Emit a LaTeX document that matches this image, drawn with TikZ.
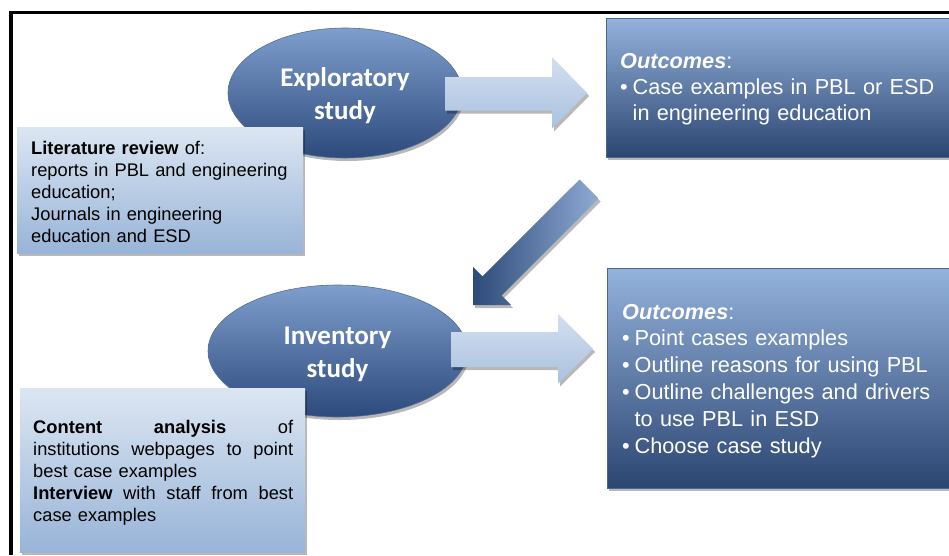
\documentclass[tikz,border=0pt]{standalone}
\usepackage{fontspec}
\setmainfont{Liberation Sans}
\newfontfamily\carlito{Carlito}
\usetikzlibrary{shapes.geometric,shadows}
\definecolor{infotop}{HTML}{DCE6F2}
\definecolor{infobot}{HTML}{98B4D8}
\definecolor{outtop}{HTML}{93B2DC}
\definecolor{outmid}{HTML}{44679B}
\definecolor{outbot}{HTML}{2B4571}
\definecolor{elltop}{HTML}{7E9ECE}
\definecolor{ellmid}{HTML}{3E639C}
\definecolor{ellbot}{HTML}{2C4A7B}
\definecolor{arrtop}{HTML}{D3DFEF}
\definecolor{arrbot}{HTML}{AAC1E0}
\definecolor{darrdark}{HTML}{2D4A78}
\definecolor{darrmid}{HTML}{4C6FA3}
\definecolor{darrlight}{HTML}{8FAAD3}
\newcommand\bul{\makebox[12.5pt][l]{\textbullet}}
\newcommand\ind{\hspace*{12.5pt}}
\newcommand\jline[1]{\leavevmode\hbox to\linewidth{#1}}
\begin{document}
\begin{tikzpicture}[x=1pt,y=-1pt,
  softshadow/.style={drop shadow={shadow xshift=2pt,shadow yshift=-3pt,opacity=.28,fill=black}},
  studyell/.style={ellipse,inner sep=0pt,top color=elltop,middle color=ellmid,bottom color=ellbot,
    draw=ellbot!80!white,line width=0.6pt,softshadow,text=white,align=center,
    font=\carlito\bfseries\fontsize{27}{33}\selectfont},
  infobox/.style={rectangle,inner sep=0pt,anchor=north west,top color=infotop,bottom color=infobot,softshadow},
  infotext/.style={anchor=base west,inner sep=0pt,text width=#1,align=left,
    font=\fontsize{18.3}{22.2}\selectfont,text=black},
  outbox/.style={rectangle,inner sep=0pt,anchor=north west,top color=outtop,middle color=outmid,bottom color=outbot,
    draw=outbot!70!outtop,line width=0.8pt,softshadow},
  outtext/.style={anchor=base west,inner sep=0pt,text width=325pt,align=left,
    font=\fontsize{21.7}{#1}\selectfont,text=white},
  lightarrow/.style={top color=arrtop,bottom color=arrbot,softshadow},
  darkarrow/.style={left color=darrdark,middle color=darrmid,right color=darrlight,softshadow},
  frameline/.style={line width=3.4pt,black}
]
\useasboundingbox (0,0) rectangle (949,555);

% study ellipses
\node[studyell,minimum width=234pt,minimum height=130pt] (explo) at (345,93) {\rule{0pt}{25pt}Exploratory\\study};
\node[studyell,minimum width=259pt,minimum height=132pt] (inv) at (337.5,351) {\rule{0pt}{25pt}Inventory\\study};

% light block arrows
\coordinate (a1) at (445,94);
\path[lightarrow] (a1) ++(0,-17) -- ++(107,0) -- ++(0,-20) -- (587,93) -- (552,128.5) -- ++(0,-18) -- ++(-107,0) -- cycle;
\coordinate (a2) at (451,349.5);
\path[lightarrow] (a2) ++(0,-17.5) -- ++(107,0) -- ++(0,-18) -- (593,349) -- (558,383.5) -- ++(0,-16.5) -- ++(-107,0) -- cycle;

% diagonal block arrow
\coordinate (dtail) at (589,189);
\coordinate (dtip) at (473,305);
\path[darkarrow] (dtip) -- (511.2,305) -- (501.7,295.5) -- (598.5,198.5) -- (579.5,179.5) -- (482.5,276.3) -- (473,266.8) -- cycle;

% info boxes
\node[infobox,minimum width=286pt,minimum height=126pt] (litbox) at (17,127) {};
\node[infotext=262pt] (littext) at (31,154) {\textbf{Literature review} of:\\
reports in PBL and engineering\\
education;\\
Journals in engineering\\
education and ESD};

\node[infobox,minimum width=285pt,minimum height=164pt] (conbox) at (20,388) {};
\node[infotext=260pt] (context) at (33,433) {\jline{\textbf{Content}\hfill\textbf{analysis}\hfill of}\\
\jline{institutions\hfill webpages\hfill to\hfill point}\\
best case examples\\
\jline{\textbf{Interview}\hfill with\hfill staff\hfill from\hfill best}\\
case examples};

% outcome boxes
\node[outbox,minimum width=345pt,minimum height=139pt] (out1) at (606,18) {};
\node[outtext=26.2] (out1text) at (620,68.5) {\textbf{\textit{Outcomes}}:\\
\bul Case examples in PBL or ESD\\
\ind in engineering education};

\node[outbox,minimum width=344pt,minimum height=220pt] (out2) at (607,268) {};
\node[outtext=26.8] (out2text) at (622,319) {\textbf{\textit{Outcomes}}:\\
\bul Point cases examples\\
\bul Outline reasons for using PBL\\
\bul Outline challenges and drivers\\
\ind to use PBL in ESD\\
\bul Choose case study};

% frame
\coordinate (fl) at (11,555);
\coordinate (fc) at (11,12.5);
\coordinate (fr) at (949,12.5);
\draw[frameline] (fl) -- (fc) -- (fr);
\end{tikzpicture}
\end{document}
